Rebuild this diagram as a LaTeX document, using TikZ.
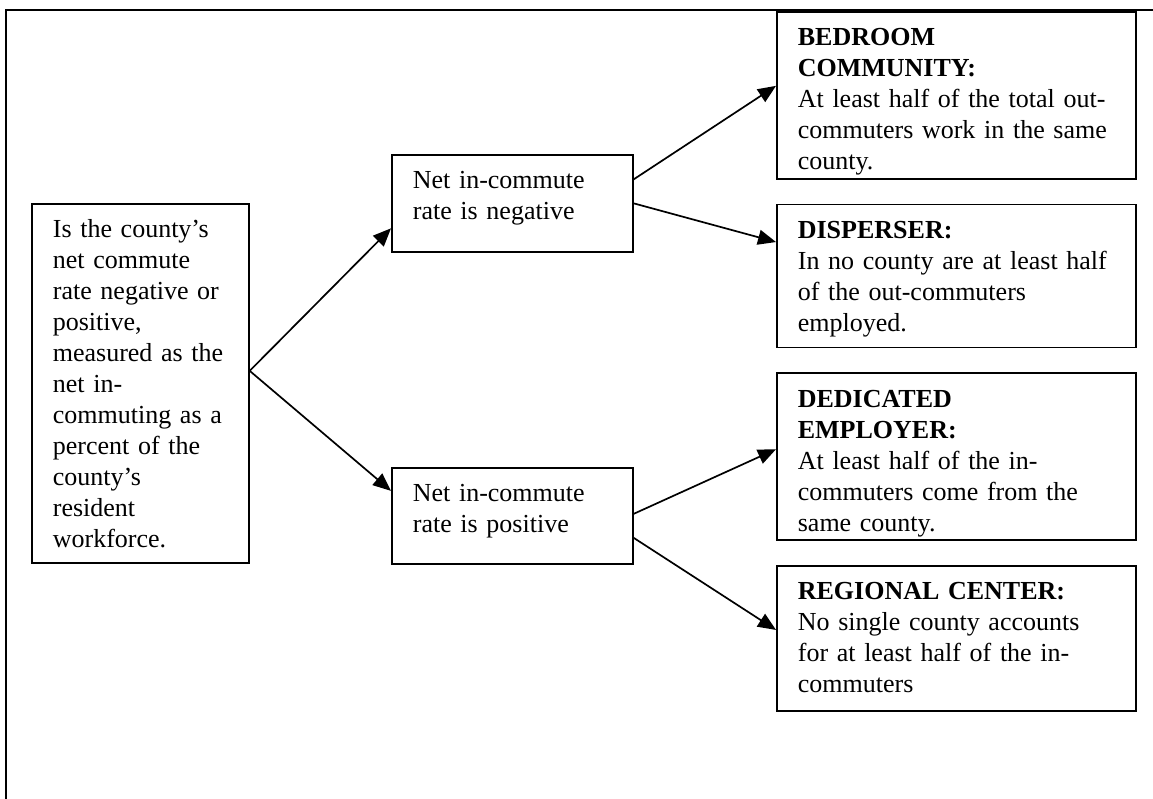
\documentclass[tikz,border=0pt]{standalone}
\usepackage{fontspec}
\setmainfont{Liberation Serif}
\usetikzlibrary{positioning,arrows.meta}

\begin{document}
\begin{tikzpicture} [x=1pt, y=-1pt, line width=1.7pt,
                    laatikko/.style={draw, anchor=north west, align=left, inner xsep=21pt,
                      inner ysep=0pt, text height=34pt, font=\fontsize{26}{31}\selectfont},
                    nuoli/.style={-{Triangle[length=18pt,width=15pt]}}]

\useasboundingbox (0,0) rectangle (1153,799);
\draw (6,799) -- (6,10) -- (1153,10);

\node[laatikko, text width=175pt, text depth=325pt] (1) at (31,203)
  {Is the county’s\\ net commute\\ rate negative or\\ positive,\\ measured as the\\ net in-\\
   commuting as a\\ percent of the\\ county’s\\ resident\\ workforce.};
\node[laatikko, text width=199pt, text depth=63pt] (2) at (391,154)
  {Net in-commute\\ rate is negative};
\node[laatikko, text width=199pt, text depth=62pt] (3) at (391,467)
  {Net in-commute\\ rate is positive};
\node[laatikko, text width=317pt, text depth=133pt] (4) at (776,11)
  {\textbf{BEDROOM}\\ \textbf{COMMUNITY:}\\ At least half of the total out-\\
   commuters work in the same\\ county.};
\node[laatikko, text width=317pt, text depth=109pt] (5) [below=24pt of 4]
  {\textbf{DISPERSER:}\\ In no county are at least half\\ of the out-commuters\\ employed.};
\node[laatikko, text width=317pt, text depth=133pt] (6) [below=24pt of 5]
  {\textbf{DEDICATED}\\ \textbf{EMPLOYER:}\\ At least half of the in-\\
   commuters come from the\\ same county.};
\node[laatikko, text width=317pt, text depth=111pt] (7) [below=24pt of 6]
  {\textbf{REGIONAL CENTER:}\\ No single county accounts\\ for at least half of the in-\\ commuters};

 \path[nuoli]
    ([yshift=12.5pt]1.east) edge ([yshift=-25pt]2.west)
    ([yshift=12.5pt]1.east) edge ([yshift=25pt]3.west)
    ([yshift=24pt]2.east) edge ([yshift=9.5pt]4.west)
    (2.east) edge ([yshift=34pt]5.west)
    ([yshift=2pt]3.east) edge ([yshift=7.5pt]6.west)
    ([yshift=-22pt]3.east) edge ([yshift=8.5pt]7.west);
\end{tikzpicture}
\end{document}
